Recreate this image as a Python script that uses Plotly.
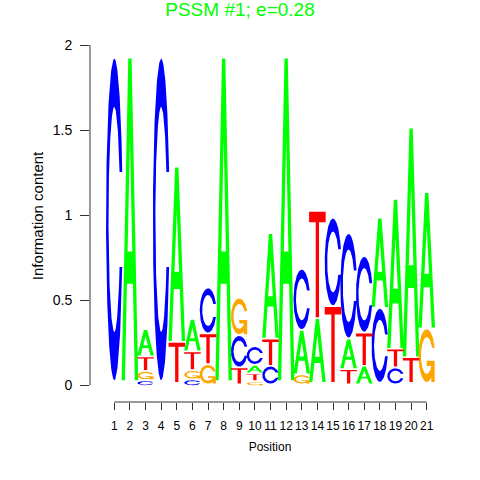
import numpy as np
import plotly.graph_objects as go

# ---- data ----
positions = list(range(1, 22))
height_A = [0, 1.89, 0.15, 0, 1.02, 0.18, 0, 1.89, 0, 0.04, 0.61,
            1.89, 0.25, 0.37, 0, 0.17, 0.10, 0.52, 0.87, 1.34, 0.79]
height_C = [1.89, 0, 0.025, 1.89, 0, 0.03, 0.26, 0, 0.18, 0.10, 0.10,
            0, 0.35, 0, 0.51, 0.61, 0.44, 0.43, 0.09, 0, 0]
height_G = [0, 0, 0.045, 0, 0, 0.045, 0.11, 0, 0.21, 0.02, 0,
            0, 0.05, 0, 0, 0, 0, 0, 0, 0, 0.31]
height_T = [0, 0, 0.075, 0, 0.23, 0.10, 0.17, 0, 0.09, 0.035, 0.15,
            0, 0, 0.62, 0.44, 0.08, 0.185, 0, 0.10, 0.14, 0]
y_ticks = [0, 0.5, 1, 1.5, 2]
y_tick_labels = ["0", "0.5", "1", "1.5", "2"]
title_text = "PSSM #1; e=0.28"
x_title = "Position"
y_title = "Information content"

colors = {"A": "#00FF00", "C": "#0000FF", "G": "#FFA500", "T": "#FF0000"}
FONT = "Liberation Sans, Arial, Helvetica, sans-serif"
STACK_GAP = 0.01

# ---- glyph templates (unit box) ----
def _c_outline():
    a1 = np.linspace(0.3 + np.pi / 2, np.pi, 100)
    a2 = np.linspace(np.pi, 1.5 * np.pi, 100)
    xl1 = 0.5 + 0.5 * np.sin(a1); yl1 = 0.5 + 0.5 * np.cos(a1)
    xl2 = 0.5 + 0.5 * np.sin(a2); yl2 = 0.5 + 0.5 * np.cos(a2)
    xl = np.concatenate([xl1, xl2]); yl = np.concatenate([yl1, yl2])
    x = np.concatenate([xl, xl[::-1]]); y = np.concatenate([yl, 1 - yl[::-1]])
    xi1 = 0.5 + 0.35 * np.sin(a1); yi1 = 0.5 + 0.35 * np.cos(a1)
    m = yi1 <= yl1.max()
    xi1 = xi1[m]; yi1 = yi1[m].copy(); yi1[0] = yl1.max()
    xi2 = 0.5 + 0.35 * np.sin(a2); yi2 = 0.5 + 0.35 * np.cos(a2)
    xi = np.concatenate([xi1, xi2]); yi = np.concatenate([yi1, yi2])
    x1 = np.concatenate([xi, xi[::-1]]); y1 = np.concatenate([yi, 1 - yi[::-1]])
    return np.concatenate([x, x1[::-1]]), np.concatenate([y, y1[::-1]]), xl1.max()

def glyph(letter):
    if letter == "A":
        ox = np.array([0, 4, 6, 10, 8, 6.8, 3.2, 2, 0]) * 0.1
        oy = np.array([0, 10, 10, 0, 0, 3, 3, 0, 0]) * 0.1
        hx = np.array([3.6, 5, 6.4, 3.6]) * 0.1
        hy = np.array([4, 7.5, 4, 4]) * 0.1
        return [(ox, oy)], [(hx, hy)]
    if letter == "T":
        ox = np.array([0, 10, 10, 6, 6, 4, 4, 0]) * 0.1
        oy = np.array([10, 10, 9, 9, 0, 0, 9, 9]) * 0.1
        return [(ox, oy)], []
    x, y, r1 = _c_outline()
    if letter == "C":
        return [(x, y)], []
    h1 = 0.4
    ax = np.array([r1, 0.5, 0.5, r1 - 0.2, r1 - 0.2, r1, r1])
    ay = np.array([h1, h1, h1 - 0.1, h1 - 0.1, 0, 0, h1])
    return [(x[::-1], y[::-1]), (ax, ay)], []

heights = {"A": height_A, "C": height_C, "G": height_G, "T": height_T}
letters = ["A", "C", "G", "T"]
width = 1.06

paths = {l: ([], []) for l in letters}
holes = ([], [])
for j, pos in enumerate(positions):
    col = [heights[l][j] for l in letters]
    order = sorted(range(4), key=lambda i: col[i])
    ypos = 0.0
    x0 = pos - width / 2
    for i in order:
        l = letters[i]; ht = col[i]
        if ht > 0:
            polys, hls = glyph(l)
            for px, py in polys:
                paths[l][0].extend(list(x0 + width * px) + [None])
                paths[l][1].extend(list(ypos + ht * py) + [None])
            for px, py in hls:
                holes[0].extend(list(x0 + width * px) + [None])
                holes[1].extend(list(ypos + ht * py) + [None])
        ypos += ht + STACK_GAP

fig = go.Figure()
for l in letters:
    fig.add_trace(go.Scatter(x=paths[l][0], y=paths[l][1], mode="lines",
                             fill="toself", fillcolor=colors[l],
                             line=dict(width=0, color=colors[l]),
                             hoverinfo="skip", showlegend=False))
fig.add_trace(go.Scatter(x=holes[0], y=holes[1], mode="lines", fill="toself",
                         fillcolor="white", line=dict(width=0, color="white"),
                         hoverinfo="skip", showlegend=False))

# R-style axis lines
fig.add_shape(type="line", xref="x", yref="paper", x0=positions[0], x1=positions[-1],
              y0=0, y1=0, line=dict(color="#333333", width=1))
fig.add_shape(type="line", xref="paper", yref="y", x0=0, x1=0,
              y0=y_ticks[0], y1=y_ticks[-1], line=dict(color="#333333", width=1))

# y-axis title
fig.add_annotation(text=y_title, textangle=-90, xref="paper", yref="paper",
                   x=(37 - 90) / 360, y=(401.7 - 216) / (401.7 - 45),
                   xanchor="center", yanchor="middle", showarrow=False,
                   font=dict(size=15, family=FONT, color="black"))

fig.update_layout(
    width=480, height=480,
    margin=dict(l=90, r=30, t=45, b=78, autoexpand=False),
    plot_bgcolor="white", paper_bgcolor="white",
    font=dict(family=FONT, size=12, color="black"),
    title=dict(text=title_text, x=0.5, xref="container", xanchor="center",
               y=1 - 9 / 480, yref="container", yanchor="middle",
               font=dict(size=19, color="#00FF00", family=FONT)),
    xaxis=dict(range=[-0.556, 22.49], tickvals=positions,
               ticktext=[str(p) for p in positions], tickangle=0,
               ticks="outside", ticklen=7, tickcolor="#333333", tickwidth=1,
               showline=False, showgrid=False, zeroline=False,
               ticklabelstandoff=6, automargin=False,
               title=dict(text=x_title, standoff=10, font=dict(size=12))),
    yaxis=dict(range=[-0.098, 2.0], tickvals=y_ticks, ticktext=y_tick_labels,
               ticks="outside", ticklen=9, tickcolor="#333333", tickwidth=1,
               showline=False, showgrid=False, zeroline=False,
               tickfont=dict(size=14),
               ticklabelstandoff=5, automargin=False),
)

fig.write_html("out.html", post_script="document.body.style.margin='0';",
               config={"displayModeBar": False})
